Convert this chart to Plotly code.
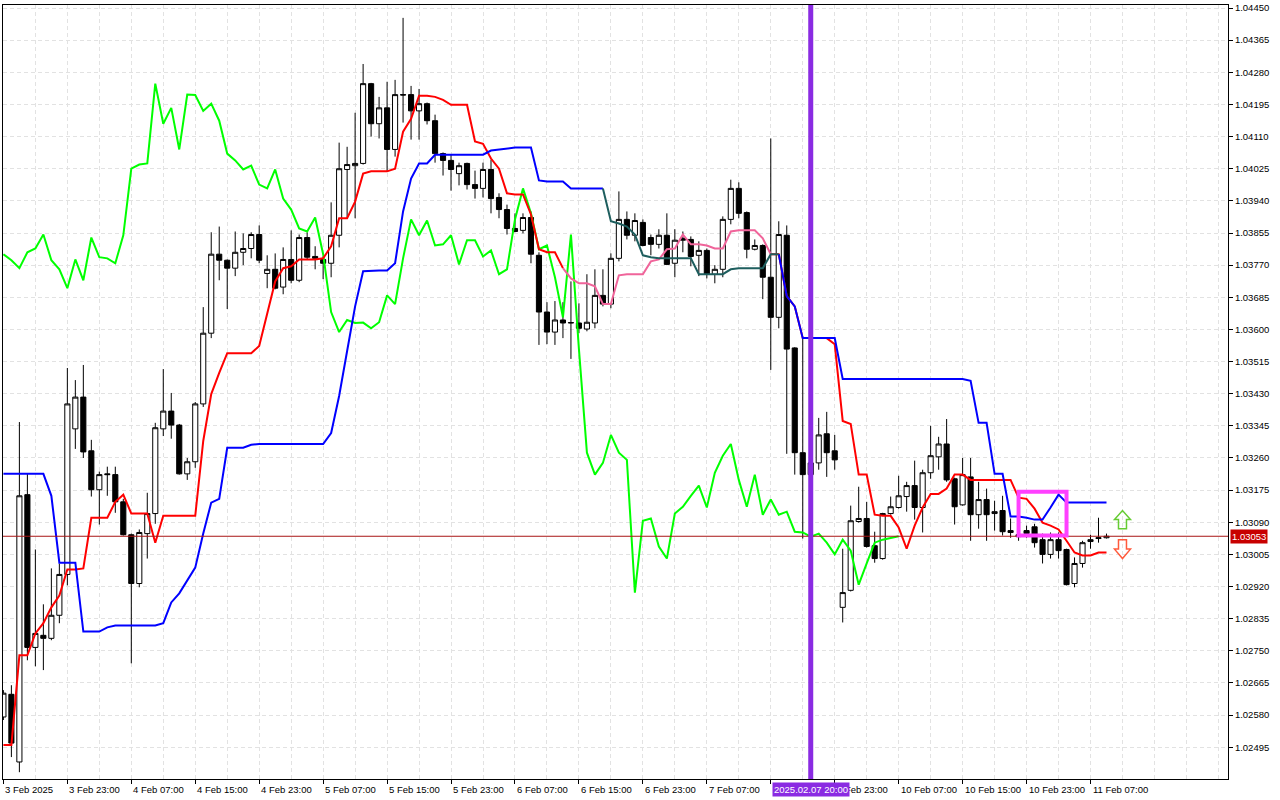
import plotly.graph_objects as go

# H1 candles, 3 Feb 2025 15:00 .. 11 Feb 2025 09:00 (bar index on x)
opens = [
    1.02575, 1.02635, 1.02456, 1.03163, 1.02759, 1.02791, 1.02783, 1.02844, 1.02952, 1.03337,
    1.03421, 1.03279, 1.03176, 1.03218, 1.03216, 1.03144, 1.03057, 1.02928, 1.03060, 1.03113,
    1.03337, 1.03384, 1.03347, 1.03218, 1.03250, 1.03403, 1.03590, 1.03799, 1.03783, 1.03762,
    1.03804, 1.03814, 1.03851, 1.03748, 1.03759, 1.03712, 1.03785, 1.03730, 1.03843, 1.03793,
    1.03785, 1.03775, 1.03849, 1.04023, 1.04033, 1.04039, 1.04250, 1.04144, 1.04186, 1.04076,
    1.04221, 1.04221, 1.04178, 1.04197, 1.04152, 1.04065, 1.04047, 1.04012, 1.04039, 1.03983,
    1.03973, 1.04023, 1.03949, 1.03917, 1.03867, 1.03862, 1.03896, 1.03796, 1.03646, 1.03593,
    1.03625, 1.03617, 1.03617, 1.03601, 1.03617, 1.03690, 1.03667, 1.03788, 1.03891, 1.03849,
    1.03883, 1.03843, 1.03825, 1.03849, 1.03775, 1.03841, 1.03838, 1.03796, 1.03809, 1.03746,
    1.03759, 1.03891, 1.03973, 1.03909, 1.03812, 1.03822, 1.03738, 1.03632, 1.03849, 1.03551,
    1.03274, 1.03216, 1.03247, 1.03324, 1.03279, 1.02865, 1.02910, 1.03092, 1.03100, 1.03028,
    1.02994, 1.03113, 1.03129, 1.03158, 1.03187, 1.03129, 1.03221, 1.03263, 1.03297, 1.03205,
    1.03136, 1.03210, 1.03110, 1.03150, 1.03113, 1.03121, 1.03068, 1.03057, 1.03068, 1.03078,
    1.03044, 1.03005, 1.03044, 1.03018, 1.02928, 1.02981, 1.03039, 1.03047, 1.03049,
]
highs = [
    1.02646, 1.02659, 1.03355, 1.03218, 1.03018, 1.02873, 1.02968, 1.02981, 1.03498, 1.03466,
    1.03506, 1.03308, 1.03224, 1.03237, 1.03237, 1.03152, 1.03060, 1.03071, 1.03168, 1.03353,
    1.03495, 1.03432, 1.03350, 1.03260, 1.03408, 1.03659, 1.03857, 1.03872, 1.03785, 1.03859,
    1.03854, 1.03857, 1.03875, 1.03796, 1.03801, 1.03817, 1.03862, 1.03851, 1.03857, 1.03820,
    1.03793, 1.03936, 1.04094, 1.04083, 1.04173, 1.04302, 1.04252, 1.04215, 1.04255, 1.04260,
    1.04424, 1.04244, 1.04236, 1.04200, 1.04168, 1.04068, 1.04062, 1.04041, 1.04041, 1.04020,
    1.04041, 1.04049, 1.03960, 1.03930, 1.03907, 1.03907, 1.03912, 1.03804, 1.03672, 1.03675,
    1.03672, 1.03727, 1.03669, 1.03746, 1.03759, 1.03759, 1.03801, 1.03965, 1.03912, 1.03907,
    1.03891, 1.03851, 1.03865, 1.03907, 1.03865, 1.03859, 1.03846, 1.03833, 1.03814, 1.03770,
    1.03899, 1.03996, 1.03989, 1.03912, 1.03838, 1.03825, 1.04105, 1.03886, 1.03875, 1.03553,
    1.03577, 1.03305, 1.03366, 1.03382, 1.03321, 1.03020, 1.03134, 1.03184, 1.03144, 1.03065,
    1.03115, 1.03158, 1.03213, 1.03197, 1.03253, 1.03229, 1.03345, 1.03316, 1.03363, 1.03208,
    1.03260, 1.03260, 1.03197, 1.03179, 1.03147, 1.03160, 1.03100, 1.03068, 1.03081, 1.03086,
    1.03060, 1.03063, 1.03063, 1.03020, 1.02997, 1.03041, 1.03057, 1.03102, 1.03060,
]
lows = [
    1.02567, 1.02469, 1.02429, 1.02725, 1.02709, 1.02699, 1.02778, 1.02823, 1.02923, 1.03284,
    1.03260, 1.03158, 1.03084, 1.03160, 1.03115, 1.03055, 1.02717, 1.02918, 1.02994, 1.03086,
    1.03318, 1.03311, 1.03216, 1.03202, 1.03234, 1.03395, 1.03577, 1.03730, 1.03654, 1.03741,
    1.03770, 1.03788, 1.03775, 1.03709, 1.03706, 1.03693, 1.03722, 1.03725, 1.03785, 1.03759,
    1.03733, 1.03738, 1.03817, 1.03894, 1.03894, 1.04036, 1.04110, 1.04105, 1.04018, 1.04057,
    1.04147, 1.04102, 1.04102, 1.04142, 1.04041, 1.04007, 1.03967, 1.03981, 1.03970, 1.03946,
    1.03949, 1.03907, 1.03894, 1.03851, 1.03857, 1.03854, 1.03775, 1.03559, 1.03561, 1.03559,
    1.03577, 1.03522, 1.03590, 1.03595, 1.03603, 1.03661, 1.03656, 1.03780, 1.03838, 1.03833,
    1.03820, 1.03796, 1.03814, 1.03770, 1.03738, 1.03804, 1.03767, 1.03741, 1.03735, 1.03722,
    1.03738, 1.03878, 1.03894, 1.03788, 1.03809, 1.03680, 1.03493, 1.03603, 1.03271, 1.03216,
    1.03047, 1.03147, 1.03229, 1.03210, 1.03229, 1.02825, 1.02907, 1.03089, 1.03023, 1.02983,
    1.02991, 1.03110, 1.03126, 1.03118, 1.03097, 1.03063, 1.03205, 1.03229, 1.03197, 1.03084,
    1.03134, 1.03041, 1.03073, 1.03041, 1.03068, 1.03055, 1.03049, 1.03041, 1.03049, 1.03023,
    1.02981, 1.02994, 1.02994, 1.02923, 1.02918, 1.02970, 1.03020, 1.03036, 1.03047,
]
closes = [
    1.02638, 1.02506, 1.03160, 1.02759, 1.02796, 1.02783, 1.02844, 1.02952, 1.03403, 1.03421,
    1.03276, 1.03176, 1.03216, 1.03216, 1.03144, 1.03057, 1.02928, 1.03063, 1.03113, 1.03340,
    1.03384, 1.03347, 1.03218, 1.03250, 1.03403, 1.03590, 1.03799, 1.03783, 1.03762, 1.03804,
    1.03814, 1.03851, 1.03783, 1.03759, 1.03709, 1.03785, 1.03730, 1.03843, 1.03791, 1.03788,
    1.03775, 1.03849, 1.04025, 1.04036, 1.04039, 1.04250, 1.04144, 1.04186, 1.04076, 1.04221,
    1.04220, 1.04178, 1.04197, 1.04152, 1.04065, 1.04047, 1.04023, 1.04033, 1.03983, 1.03973,
    1.04023, 1.03946, 1.03917, 1.03867, 1.03859, 1.03896, 1.03799, 1.03646, 1.03593, 1.03625,
    1.03617, 1.03618, 1.03603, 1.03619, 1.03690, 1.03667, 1.03788, 1.03891, 1.03849, 1.03888,
    1.03822, 1.03825, 1.03849, 1.03772, 1.03836, 1.03836, 1.03793, 1.03809, 1.03746, 1.03759,
    1.03891, 1.03973, 1.03907, 1.03812, 1.03822, 1.03738, 1.03632, 1.03851, 1.03548, 1.03274,
    1.03216, 1.03247, 1.03321, 1.03274, 1.03255, 1.02904, 1.03094, 1.03100, 1.03026, 1.02994,
    1.03113, 1.03131, 1.03160, 1.03187, 1.03129, 1.03221, 1.03266, 1.03297, 1.03202, 1.03131,
    1.03216, 1.03110, 1.03150, 1.03110, 1.03118, 1.03065, 1.03063, 1.03052, 1.03060, 1.03036,
    1.03005, 1.03044, 1.03015, 1.02925, 1.02981, 1.03036, 1.03044, 1.03049, 1.03053,
]

# fast line (red, pink while flat) and slow step line (blue, teal part)
fast_line = [
    1.02501, 1.02501, 1.02738, 1.02738, 1.02796, 1.02823, 1.02865, 1.02896, 1.02965, 1.02965,
    1.02968, 1.03102, 1.03102, 1.03102, 1.03144, 1.03163, 1.03113, 1.03113, 1.03113, 1.03036,
    1.03107, 1.03107, 1.03107, 1.03107, 1.03107, 1.03305, 1.03429, 1.03485, 1.03537, 1.03537,
    1.03537, 1.03537, 1.03556, 1.03640, 1.03727, 1.03762, 1.03767, 1.03785, 1.03785, 1.03785,
    1.03788, 1.03820, 1.03894, 1.03894, 1.03938, 1.04012, 1.04018, 1.04018, 1.04018, 1.04025,
    1.04123, 1.04157, 1.04218, 1.04218, 1.04215, 1.04207, 1.04194, 1.04194, 1.04194, 1.04097,
    1.04091, 1.04052, 1.04025, 1.03960, 1.03957, 1.03957, 1.03904, 1.03812, 1.03804, 1.03804,
    1.03762, 1.03735, 1.03722, 1.03722, 1.03714, 1.03667, 1.03667, 1.03743, 1.03746, 1.03746,
    1.03746, 1.03780, 1.03785, 1.03812, 1.03814, 1.03851, 1.03825, 1.03825, 1.03822, 1.03814,
    1.03814, 1.03859, 1.03862, 1.03862, 1.03862, 1.03841, 1.03799, 1.03799, 1.03688, 1.03661,
    1.03577, 1.03577, 1.03577, 1.03577, 1.03561, 1.03358, 1.03350, 1.03216, 1.03216, 1.03110,
    1.03107, 1.03107, 1.03076, 1.03020, 1.03081, 1.03129, 1.03165, 1.03165, 1.03179, 1.03216,
    1.03216, 1.03202, 1.03202, 1.03202, 1.03202, 1.03202, 1.03202, 1.03155, 1.03152, 1.03126,
    1.03089, 1.03081, 1.03071, 1.03041, 1.03010, 1.03002, 1.03002, 1.03010, 1.03010,
]
slow_line = [
    1.03218, 1.03218, 1.03218, 1.03218, 1.03218, 1.03218, 1.03160, 1.02983, 1.02983, 1.02983,
    1.02801, 1.02801, 1.02801, 1.02812, 1.02817, 1.02817, 1.02817, 1.02817, 1.02817, 1.02817,
    1.02823, 1.02878, 1.02902, 1.02936, 1.02970, 1.03060, 1.03142, 1.03152, 1.03287, 1.03287,
    1.03287, 1.03295, 1.03297, 1.03297, 1.03297, 1.03297, 1.03297, 1.03297, 1.03297, 1.03297,
    1.03297, 1.03326, 1.03424, 1.03543, 1.03661, 1.03754, 1.03756, 1.03756, 1.03756, 1.03775,
    1.03912, 1.03999, 1.04039, 1.04039, 1.04062, 1.04062, 1.04062, 1.04062, 1.04062, 1.04062,
    1.04062, 1.04073, 1.04076, 1.04078, 1.04081, 1.04081, 1.04081, 1.03994, 1.03991, 1.03991,
    1.03991, 1.03973, 1.03973, 1.03973, 1.03973, 1.03973, 1.03886, 1.03880, 1.03872, 1.03851,
    1.03796, 1.03791, 1.03788, 1.03788, 1.03788, 1.03788, 1.03788, 1.03746, 1.03746, 1.03746,
    1.03746, 1.03759, 1.03762, 1.03762, 1.03762, 1.03762, 1.03799, 1.03799, 1.03688, 1.03661,
    1.03577, 1.03577, 1.03577, 1.03577, 1.03577, 1.03469, 1.03469, 1.03469, 1.03469, 1.03469,
    1.03469, 1.03469, 1.03469, 1.03469, 1.03469, 1.03469, 1.03469, 1.03469, 1.03469, 1.03469,
    1.03469, 1.03464, 1.03353, 1.03353, 1.03218, 1.03218, 1.03105, 1.03105, 1.03102, 1.03097,
    1.03097, 1.03129, 1.03163, 1.03142, 1.03142, 1.03142, 1.03142, 1.03142, 1.03142,
]
lag = 26  # lagging line = close drawn 26 bars back

pink_span = (70, 96)
teal_span = (75, 97)

label_bars = [0, 8, 16, 24, 32, 40, 48, 56, 64, 72, 80, 88, 96, 104, 112, 120, 128, 136]
time_labels = [
    "3 Feb 2025", "3 Feb 23:00", "4 Feb 07:00", "4 Feb 15:00", "4 Feb 23:00", "5 Feb 07:00",
    "5 Feb 15:00", "5 Feb 23:00", "6 Feb 07:00", "6 Feb 15:00", "6 Feb 23:00", "7 Feb 07:00",
    "7 Feb 15:00", "7 Feb 23:00", "10 Feb 07:00", "10 Feb 15:00", "10 Feb 23:00", "11 Feb 07:00",
]

marker_bar = 101
marker_text = "2025.02.07 20:00"
last_price = 1.03053
box_bars = (127, 133)
box_prices = (1.03055, 1.03171)
signal_bar = 140
up_arrow = (1.03073, 1.03121)     # base, tip
down_arrow = (1.03044, 1.02994)   # base, tip

FONT = "Liberation Sans"
bars = list(range(len(closes)))


def part(values, span, inside):
    a, b = span
    out = []
    for i, v in enumerate(values):
        if inside:
            out.append(v if a <= i <= b else None)
        else:
            out.append(None if a < i < b else v)
    return out


fig = go.Figure()
fig.add_trace(go.Candlestick(
    x=bars, open=opens, high=highs, low=lows, close=closes,
    increasing=dict(line=dict(color="black", width=1), fillcolor="white"),
    decreasing=dict(line=dict(color="black", width=1), fillcolor="black"),
    whiskerwidth=0, hoverinfo="skip",
))
fig.add_trace(go.Scatter(x=bars[:len(closes) - lag], y=closes[lag:], mode="lines",
                         line=dict(color="#00FF00", width=2)))
fig.add_trace(go.Scatter(x=bars, y=part(fast_line, pink_span, False), mode="lines",
                         line=dict(color="#FF0000", width=2)))
fig.add_trace(go.Scatter(x=bars, y=part(fast_line, pink_span, True), mode="lines",
                         line=dict(color="#F0649A", width=2)))
fig.add_trace(go.Scatter(x=bars, y=part(slow_line, teal_span, False), mode="lines",
                         line=dict(color="#0000FF", width=2)))
fig.add_trace(go.Scatter(x=bars, y=part(slow_line, teal_span, True), mode="lines",
                         line=dict(color="#1E5E5E", width=2)))

grid = dict(showgrid=True, gridcolor="#E2E2E2", griddash="4px,3px", gridwidth=1)

fig.update_xaxes(
    range=[-0.05, 153.2], tickvals=label_bars, showticklabels=False,
    ticks="outside", ticklen=4, tickcolor="black",
    showline=True, linecolor="black", linewidth=1, mirror=True,
    minor=dict(dtick=4, tick0=0, ticks="", **grid),
    rangeslider_visible=False, zeroline=False, **grid,
)
fig.update_yaxes(
    side="right", range=[1.02411, 1.04458], tick0=1.02495, dtick=0.00085,
    tickformat=".5f", ticks="outside", ticklen=4, tickcolor="black",
    tickfont=dict(family=FONT, size=9.5, color="black"),
    showline=True, linecolor="black", linewidth=1, mirror=True, zeroline=False, **grid,
)

shapes = [
    dict(type="line", xref="paper", x0=0, x1=1, y0=last_price, y1=last_price,
         line=dict(color="#A81414", width=1)),
    dict(type="line", x0=marker_bar, x1=marker_bar, yref="paper", y0=0, y1=1,
         line=dict(color="#8A2BE2", width=5)),
    dict(type="rect", x0=box_bars[0], x1=box_bars[1], y0=box_prices[0], y1=box_prices[1],
         line=dict(color="#FF40FF", width=4)),
]


def arrow_path(x, base, tip):
    mid = (base + tip) / 2
    pts = [(x - 0.5, base), (x + 0.5, base), (x + 0.5, mid), (x + 1, mid),
           (x, tip), (x - 1, mid), (x - 0.5, mid)]
    return "M " + " L ".join(f"{px},{py}" for px, py in pts) + " Z"


shapes.append(dict(type="path", path=arrow_path(signal_bar, *up_arrow),
                   line=dict(color="#66CC33", width=1.5), fillcolor="rgba(255,255,255,0)"))
shapes.append(dict(type="path", path=arrow_path(signal_bar, *down_arrow),
                   line=dict(color="#FF5A3C", width=1.5), fillcolor="rgba(255,255,255,0)"))

annotations = []
for b, t in zip(label_bars, time_labels):
    annotations.append(dict(x=b, xref="x", y=0, yref="paper", text=t, showarrow=False,
                            xanchor="left", yanchor="top", yshift=-3, xshift=0,
                            font=dict(family=FONT, size=9.5, color="black")))
annotations.append(dict(x=marker_bar, xref="x", y=0, yref="paper", text=marker_text,
                        showarrow=False, xanchor="center", yanchor="top", yshift=-3,
                        bgcolor="#8A2BE2", borderpad=1,
                        font=dict(family=FONT, size=9.5, color="white")))
annotations.append(dict(x=1, xref="paper", y=last_price, yref="y", text=f"{last_price:.5f}",
                        showarrow=False, xanchor="left", yanchor="middle", xshift=2,
                        bgcolor="#C80000", borderpad=1,
                        font=dict(family=FONT, size=9.5, color="white")))

fig.update_layout(
    width=1280, height=800,
    margin=dict(l=2, r=52, t=3, b=21),
    paper_bgcolor="white", plot_bgcolor="white",
    showlegend=False, boxgap=0.2, boxgroupgap=0.2,
    shapes=shapes, annotations=annotations,
    font=dict(family=FONT, size=9.5, color="black"),
)

fig.write_html("out.html", config={"displayModeBar": False},
               post_script="document.body.style.margin='0';")
